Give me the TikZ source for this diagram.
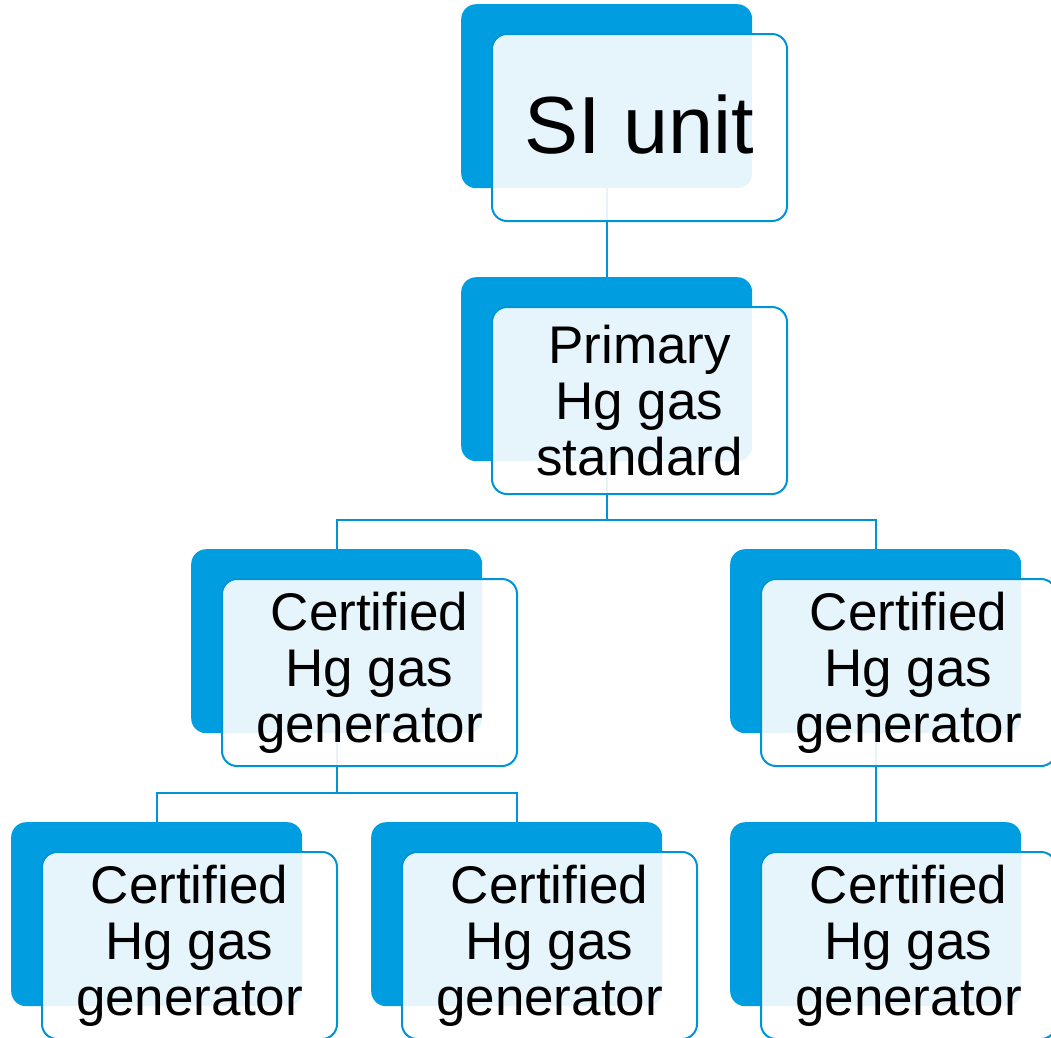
\documentclass[tikz,border=0pt]{standalone}
\usepackage{fontspec}
\setmainfont{Liberation Sans}
\usetikzlibrary{
    positioning,
    calc,
    backgrounds
}
\definecolor{hgBlue}{RGB}{0,158,224}
\definecolor{hgLine}{RGB}{0,148,214}
\tikzset{
  hgback/.style  = {fill=hgBlue, rounded corners=15pt, minimum width=291pt,
                    minimum height=184pt, inner sep=0pt, anchor=north west},
  hgfront/.style = {draw=hgLine, line width=2pt, fill=white, fill opacity=0.9,
                    rounded corners=15pt, minimum width=295pt,
                    minimum height=187pt, inner sep=0pt, anchor=north west},
  hgtext/.style  = {align=center, inner sep=0pt, text=black,
                    font=\fontsize{53}{56}\selectfont},
  hgbig/.style   = {font=\fontsize{81}{90}\selectfont, yshift=3pt},
  link/.style    = {draw=hgLine, line width=2.4pt}
}
% name, x, y, extra text style, text
\newcommand\hgbox[5]{%
  \node[hgback] (#1-b) at (#2,#3) {};
  \node[hgfront] (#1-f) at ([shift={(30,29)}]#1-b.north west) {};
  \begin{scope}
    \clip (#1-f.north west) rectangle (#1-b.east |- #1-f.south);
    \node[hgtext,#4] (#1-t) at (#1-f.center) {#5};
  \end{scope}
}

\begin{document}
\begin{tikzpicture}[x=1pt, y=-1pt]
\clip (0,0) rectangle (1051,1037);
\coordinate (bar1) at (0,520);
\coordinate (bar2) at (0,793);

\hgbox{si}{461}{4}{hgbig}{SI unit}
\hgbox{prim}{461}{277}{}{Primary\\Hg gas\\standard}
\hgbox{genA}{191}{549}{}{Certified\\Hg gas\\generator}
\hgbox{genB}{730}{549}{}{Certified\\Hg gas\\generator}
\hgbox{genAA}{11}{822}{}{Certified\\Hg gas\\generator}
\hgbox{genAB}{371}{822}{}{Certified\\Hg gas\\generator}
\hgbox{genBA}{730}{822}{}{Certified\\Hg gas\\generator}

% connectors behind the boxes
\begin{scope}[on background layer]
\draw[link] (si-b.south) -- (prim-b.north);
\draw[link] (prim-b.south) -- (prim-b.south |- bar1) -| (genA-b.north);
\draw[link] (prim-b.south |- bar1) -| (genB-b.north);
\draw[link] (genA-b.south) -- (genA-b.south |- bar2) -| (genAA-b.north);
\draw[link] (genA-b.south |- bar2) -| (genAB-b.north);
\draw[link] (genB-b.south) -- (genBA-b.north);
\end{scope}
\end{tikzpicture}
\end{document}
